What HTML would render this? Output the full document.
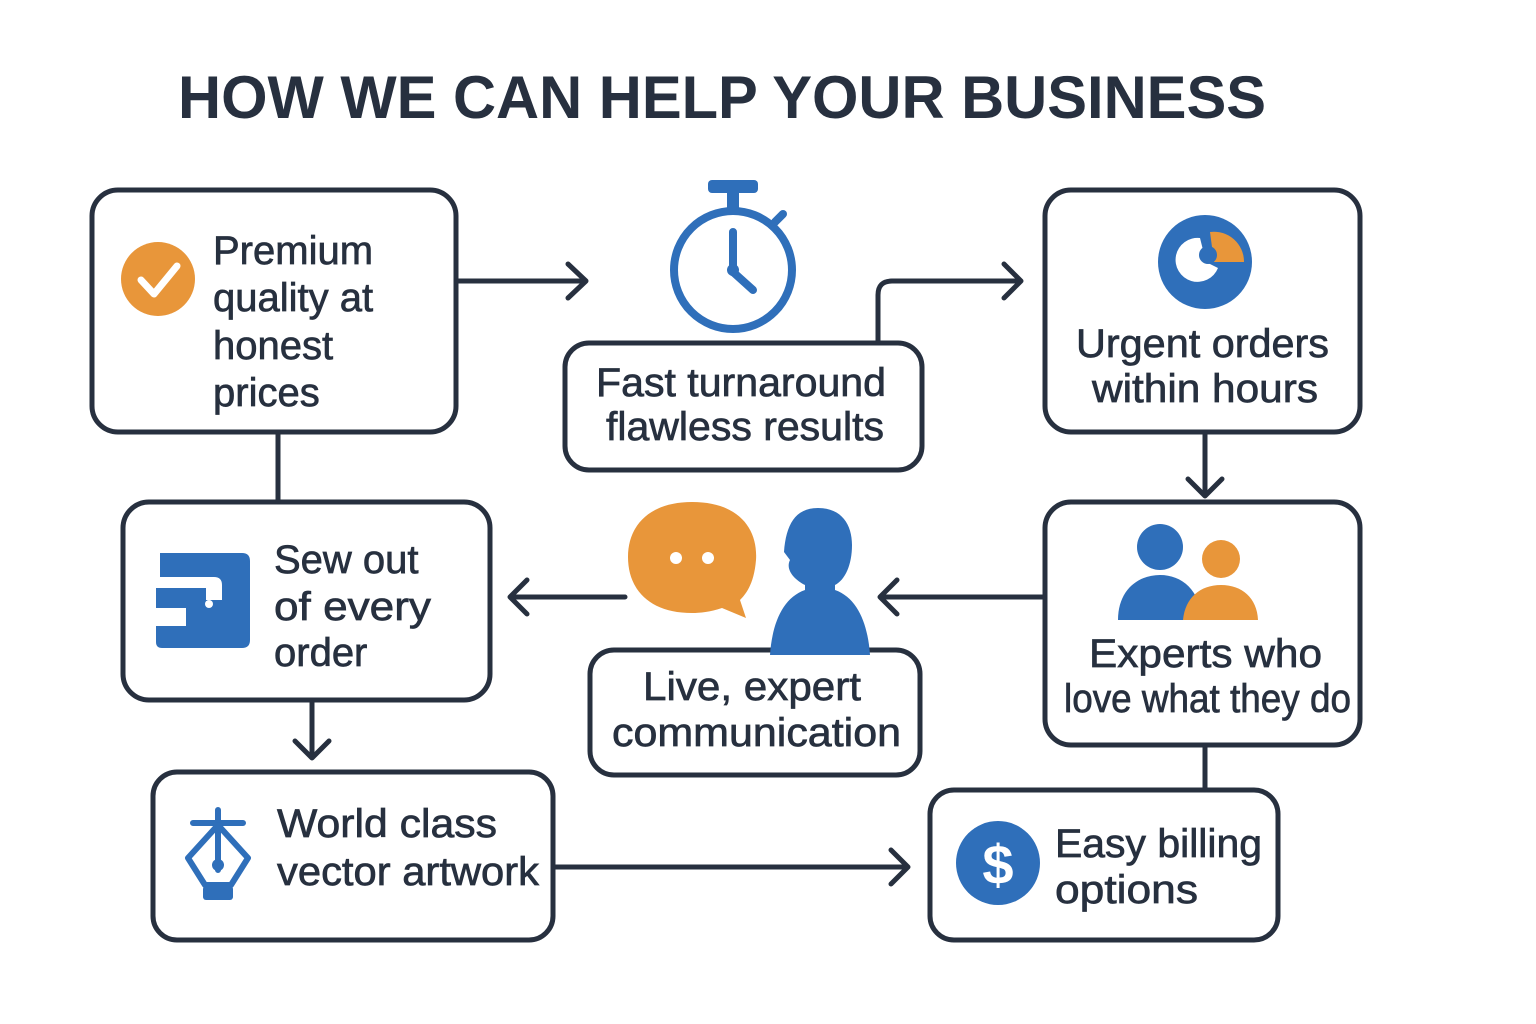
<!DOCTYPE html>
<html><head><meta charset="utf-8"><style>
html,body{margin:0;padding:0;background:#fff}
svg{display:block}
text{font-family:"Liberation Sans",sans-serif;fill:#27303f}
.lb text{stroke:#27303f;stroke-width:0.7}
</style></head><body>
<svg width="1536" height="1024" viewBox="0 0 1536 1024" xmlns="http://www.w3.org/2000/svg">
<text x="178" y="118" font-size="60" font-weight="bold" textLength="1088" lengthAdjust="spacingAndGlyphs">HOW WE CAN HELP YOUR BUSINESS</text>

<g fill="none" stroke="#27303f" stroke-width="5" stroke-linecap="round" stroke-linejoin="round">
<rect x="92" y="190" width="364" height="242" rx="26"/>
<rect x="565" y="343" width="357" height="127" rx="24"/>
<rect x="1045" y="190" width="315" height="242" rx="26"/>
<rect x="123" y="502" width="367" height="198" rx="26"/>
<rect x="590" y="650" width="330" height="125" rx="24"/>
<rect x="1045" y="502" width="315" height="243" rx="26"/>
<rect x="153" y="772" width="400" height="168" rx="24"/>
<rect x="930" y="790" width="348" height="150" rx="24"/>
<path d="M456 281 H586 M568 264 L586 281 L568 298"/>
<path d="M878 343 V295 Q878 281 892 281 H1020 M1004 264 L1021 281 L1004 298"/>
<path d="M1205 432 V496 M1188 479 L1205 496 L1222 479"/>
<path d="M1045 597 H880 M897 580 L880 597 L897 614"/>
<path d="M625 597 H510 M527 580 L510 597 L527 614"/>
<path d="M278 432 V502"/>
<path d="M312 700 V758 M295 741 L312 758 L329 741"/>
<path d="M553 867 H908 M891 850 L908 867 L891 884"/>
<path d="M1205 745 V790"/>
</g>

<circle cx="158" cy="279" r="37" fill="#e8963a"/>
<path d="M141 280 L154 294 L177 266" fill="none" stroke="#fff" stroke-width="7" stroke-linecap="round" stroke-linejoin="round"/>

<g fill="none" stroke="#2f6fba" stroke-width="8" stroke-linecap="round">
<circle cx="733" cy="270" r="59"/>
<path d="M733 232 V272 L753 290"/>
<path d="M775 222 L783 214"/>
</g>
<rect x="708" y="180" width="50" height="13" rx="4" fill="#2f6fba"/>
<rect x="727" y="190" width="12" height="18" fill="#2f6fba"/>
<circle cx="733" cy="270" r="6" fill="#2f6fba"/>

<circle cx="1205" cy="262" r="47" fill="#2f6fba"/>
<path d="M1210 232 A30 30 0 0 1 1244 262 L1214 262 Z" fill="#e8963a"/>
<path d="M1200 238 A22 22 0 1 0 1218 268 L1206 262 Z" fill="#fff"/>
<circle cx="1208" cy="255" r="9" fill="#2f6fba"/>

<path d="M160 553 H242 Q250 553 250 561 V640 Q250 648 242 648 H162 Q156 648 156 642 V626 H186 V608 H156 V588 H206 V600 H222 V585 Q222 577 214 577 H160 Z" fill="#2f6fba"/>
<circle cx="209" cy="604" r="4" fill="#fff"/>

<path d="M692 502 C740 502 758 530 756 560 C754 585 745 595 740 600 L746 618 L722 608 C710 612 700 613 692 613 C650 613 628 590 628 557 C628 525 650 502 692 502 Z" fill="#e8963a"/>
<circle cx="676" cy="558" r="6" fill="#fff"/><circle cx="708" cy="558" r="6" fill="#fff"/>
<path d="M818 508 C842 508 852 525 852 545 C852 565 845 580 835 585 V590 C858 598 868 625 870 655 H770 C772 625 782 598 805 590 V585 C795 580 785 570 790 560 L784 552 C786 525 795 508 818 508 Z" fill="#2f6fba"/>

<circle cx="1160" cy="547" r="23" fill="#2f6fba"/>
<path d="M1118 620 C1118 590 1138 575 1160 575 C1182 575 1200 590 1202 620 Z" fill="#2f6fba"/>
<circle cx="1221" cy="559" r="19" fill="#e8963a"/>
<path d="M1183 620 C1185 598 1200 585 1221 585 C1242 585 1257 598 1258 620 Z" fill="#e8963a"/>

<g fill="none" stroke="#2f6fba" stroke-width="6" stroke-linecap="round" stroke-linejoin="round">
<path d="M218 810 V870 M193 823 H243"/>
<path d="M218 825 L188 858 L205 885 H231 L248 858 Z"/>
</g>
<circle cx="218" cy="865" r="6" fill="#2f6fba"/>
<rect x="203" y="886" width="30" height="14" rx="3" fill="#2f6fba"/>

<circle cx="998" cy="863" r="42" fill="#2f6fba"/>
<text x="998" y="884" font-size="56" font-weight="bold" text-anchor="middle" style="fill:#fff">$</text>

<g font-size="40" class="lb">
<text x="213" y="264">Premium</text>
<text x="213" y="311">quality at</text>
<text x="213" y="359">honest</text>
<text x="213" y="406">prices</text>
<text x="596" y="396" textLength="290" lengthAdjust="spacingAndGlyphs">Fast turnaround</text>
<text x="606" y="440" textLength="278" lengthAdjust="spacingAndGlyphs">flawless results</text>
<text x="1076" y="357" textLength="253" lengthAdjust="spacingAndGlyphs">Urgent orders</text>
<text x="1092" y="402" textLength="226" lengthAdjust="spacingAndGlyphs">within hours</text>
<text x="274" y="573">Sew out</text>
<text x="274" y="620" textLength="157" lengthAdjust="spacingAndGlyphs">of every</text>
<text x="274" y="666">order</text>
<text x="643" y="700" textLength="218" lengthAdjust="spacingAndGlyphs">Live, expert</text>
<text x="612" y="746" textLength="289" lengthAdjust="spacingAndGlyphs">communication</text>
<text x="1089" y="667" textLength="233" lengthAdjust="spacingAndGlyphs">Experts who</text>
<text x="1064" y="712" textLength="287" lengthAdjust="spacingAndGlyphs">love what they do</text>
<text x="277" y="837" textLength="220" lengthAdjust="spacingAndGlyphs">World class</text>
<text x="277" y="885" textLength="262" lengthAdjust="spacingAndGlyphs">vector artwork</text>
<text x="1055" y="857" textLength="207" lengthAdjust="spacingAndGlyphs">Easy billing</text>
<text x="1055" y="903" textLength="143" lengthAdjust="spacingAndGlyphs">options</text>
</g>
</svg>
</body></html>
